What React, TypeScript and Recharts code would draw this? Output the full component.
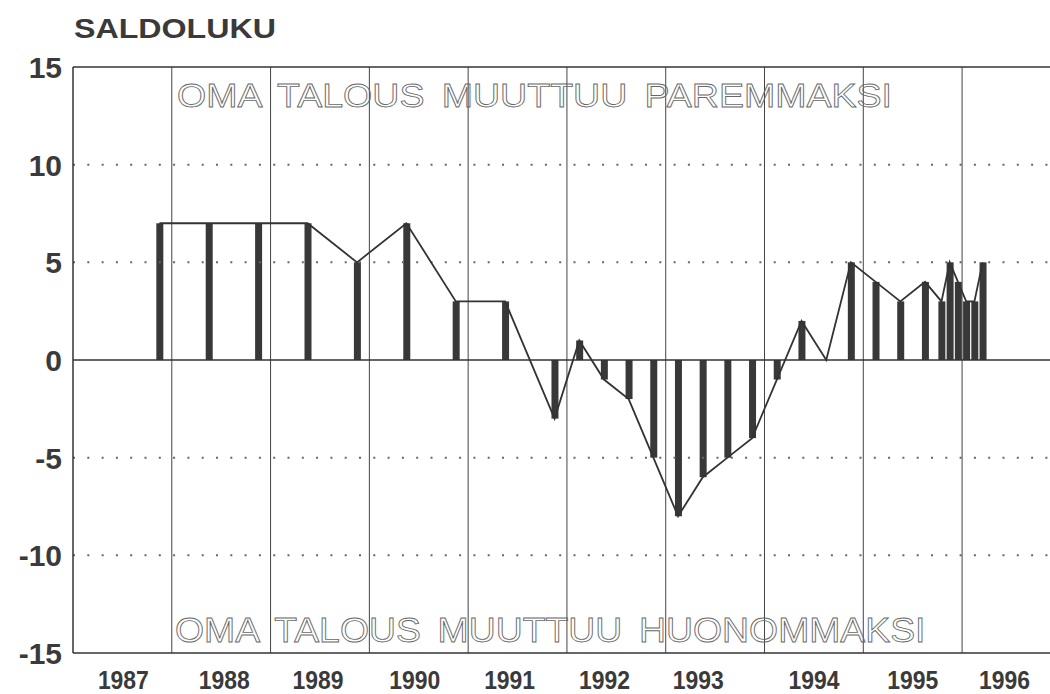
import React from 'react';
import { ComposedChart, Bar, Line, XAxis, YAxis, ReferenceLine } from 'recharts';

// survey rounds (year + month) and the balance figure
const surveyYears = [
  1987, 1988, 1988, 1989, 1989, 1990, 1990, 1991, 1991,
  1992, 1992, 1992, 1992, 1993, 1993, 1993, 1993,
  1994, 1994, 1994, 1994, 1995, 1995, 1995, 1995, 1995, 1995,
  1996, 1996, 1996,
];
const surveyMonths = [
  11, 5, 11, 5, 11, 5, 11, 5, 11,
  2, 5, 8, 11, 2, 5, 8, 11,
  2, 5, 8, 11, 2, 5, 8, 10, 11, 12,
  1, 2, 3,
];
const saldo = [
  7, 7, 7, 7, 5, 7, 3, 3, -3,
  1, -1, -2, -5, -8, -6, -5, -4,
  -1, 2, 0, 5, 4, 3, 4, 3, 5, 4,
  3, 3, 5,
];

const yTicks = [-15, -10, -5, 0, 5, 10, 15];
const dottedLevels = [-10, -5, 5, 10];
const yearLines = [1988, 1989, 1990, 1991, 1992, 1993, 1994, 1995, 1996];
const yearLabels = ['1987', '1988', '1989', '1990', '1991', '1992', '1993', '1994', '1995', '1996'];
// where the original puts each year label (not quite centred in every band)
const yearLabelPos = [1987.51, 1988.53, 1989.48, 1990.46, 1991.42, 1992.38, 1993.33, 1994.5, 1995.5, 1996.43];

const data = surveyYears.map((y, i) => ({
  t: y + (surveyMonths[i] - 0.5) / 12,
  saldo: saldo[i],
}));

const FONT = '"Liberation Sans", Arial, Helvetica, sans-serif';
const INK = '#383838';

const YTick = (props: any) => {
  const { y, payload } = props;
  return (
    <text x={62} y={y + 11} textAnchor="end" fontFamily={FONT} fontWeight="bold" fontSize={30} fill="#3a3a3a">
      {payload.value}
    </text>
  );
};

const XTick = (props: any) => {
  const { x, y, payload } = props;
  const idx = yearLabelPos.indexOf(payload.value);
  return (
    <text
      x={x}
      y={y + 34}
      textAnchor="middle"
      fontFamily={FONT}
      fontWeight="bold"
      fontSize={25}
      fill="#3a3a3a"
      textLength={51}
      lengthAdjust="spacingAndGlyphs"
    >
      {idx >= 0 ? yearLabels[idx] : ''}
    </text>
  );
};

// hollow lettering used for the two captions inside the plot
const Hollow = ({ x, y, size, sx, children }: any) => (
  <g transform={`translate(${x},${y}) scale(${sx},1)`} opacity={0.99}>
    <text
      x={0}
      y={0}
      fontFamily={FONT}
      fontSize={size}
      fill="none"
      stroke="#666"
      strokeWidth={0.9}
      vectorEffect="non-scaling-stroke"
      wordSpacing={6}
    >
      {children}
    </text>
  </g>
);

export default function App() {
  return (
    <div style={{ position: 'absolute', left: 0, top: 0, width: 1050, height: 694, background: '#fff' }}>
      <ComposedChart
        width={1050}
        height={694}
        data={data}
        margin={{ top: 67, right: 0, bottom: 0, left: 0 }}
      >
        <XAxis
          type="number"
          dataKey="t"
          domain={[1987, 1996.89]}
          allowDataOverflow
          ticks={yearLabelPos}
          interval={0}
          tick={<XTick />}
          tickLine={false}
          tickSize={0}
          height={41}
          axisLine={{ stroke: '#333', strokeWidth: 1.5 }}
        />
        <YAxis
          type="number"
          domain={[-15, 15]}
          ticks={yTicks}
          interval={0}
          tick={<YTick />}
          tickLine={false}
          width={73}
          axisLine={{ stroke: '#333', strokeWidth: 1.5 }}
        />
        {dottedLevels.map((v) => (
          <ReferenceLine key={'h' + v} y={v} stroke="#666" strokeWidth={2} strokeDasharray="2 12.3" />
        ))}
        {yearLines.map((v) => (
          <ReferenceLine key={'v' + v} x={v} stroke="#444" strokeWidth={1} />
        ))}
        <ReferenceLine y={15} stroke="#333" strokeWidth={1.5} />
        <Bar dataKey="saldo" fill={INK} barSize={7} isAnimationActive={false} />
        <ReferenceLine y={0} stroke="#333" strokeWidth={1.5} />
        <Line
          type="linear"
          dataKey="saldo"
          stroke="#333"
          strokeWidth={1.8}
          dot={false}
          activeDot={false}
          isAnimationActive={false}
        />
      </ComposedChart>
      <svg
        width={1050}
        height={694}
        style={{ position: 'absolute', left: 0, top: 0, pointerEvents: 'none' }}
      >
        <text
          x={74}
          y={37.5}
          fontFamily={FONT}
          fontWeight="bold"
          fontSize={27}
          fill="#3a3a3a"
          textLength={202}
          lengthAdjust="spacingAndGlyphs"
        >
          SALDOLUKU
        </text>
        <Hollow x={177} y={107} size={32.5} sx={1.155}>
          OMA TALOUS MUUTTUU PAREMMAKSI
        </Hollow>
        <Hollow x={175} y={642} size={35} sx={1.068}>
          OMA TALOUS MUUTTUU HUONOMMAKSI
        </Hollow>
      </svg>
    </div>
  );
}
